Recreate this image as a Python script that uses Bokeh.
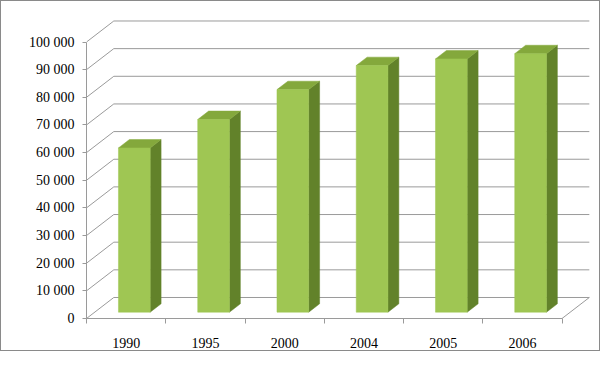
from bokeh.plotting import figure
from bokeh.models import FixedTicker, Range1d
from bokeh.embed import file_html
from bokeh.resources import INLINE

# ---- data ----
years = ["1990", "1995", "2000", "2004", "2005", "2006"]
values = [59400, 69700, 80500, 89200, 91600, 93500]
y_ticks = [0, 10000, 20000, 30000, 40000, 50000, 60000, 70000, 80000, 90000, 100000]
y_tick_labels = ["0", "10 000", "20 000", "30 000", "40 000", "50 000",
                 "60 000", "70 000", "80 000", "90 000", "100 000"]

# ---- 3D projection style ----
DX = 0.3445      # back-wall shift in category units
DY = 7600.0      # back-wall shift in value units
F0, F1 = 0.3, 0.7  # bar depth slot (fraction of chart depth)
BAR_W = 0.4

n = len(years)
FONT = "'Liberation Serif', 'Times New Roman', serif"
GRID = "#9a9a9a"

p = figure(width=600, height=351, x_range=Range1d(0, 6.435), y_range=Range1d(0, 108500),
           output_backend="svg", toolbar_location=None,
           min_border_left=85, min_border_right=5, min_border_top=17, min_border_bottom=34)
p.grid.visible = False
p.outline_line_color = None
p.background_fill_color = "white"
p.border_fill_color = "white"
p.styles = {"border": "1px solid #8a8a8a"}

# back wall gridlines + left side-wall diagonals
gx, gy = [], []
for v in y_ticks:
    gx.append([0 + DX, n + DX]); gy.append([v + DY, v + DY])
    gx.append([0, DX]); gy.append([v, v + DY])
# floor right edge
gx.append([n, n + DX]); gy.append([0, DY])
p.multi_line(gx, gy, line_color=GRID, line_width=1)

# bars
front_l, front_r, front_b, front_t = [], [], [], []
side_x, side_y, top_x, top_y = [], [], [], []
for i, v in enumerate(values):
    x0 = i + 0.5 - BAR_W / 2
    x1 = i + 0.5 + BAR_W / 2
    front_l.append(x0 + F0 * DX); front_r.append(x1 + F0 * DX)
    front_b.append(F0 * DY); front_t.append(v + F0 * DY)
    side_x.append([x1 + F0 * DX, x1 + F1 * DX, x1 + F1 * DX, x1 + F0 * DX])
    side_y.append([F0 * DY, F1 * DY, v + F1 * DY, v + F0 * DY])
    top_x.append([x0 + F0 * DX, x1 + F0 * DX, x1 + F1 * DX, x0 + F1 * DX])
    top_y.append([v + F0 * DY, v + F0 * DY, v + F1 * DY, v + F1 * DY])

p.patches(side_x, side_y, fill_color="#62822a", line_color="#62822a", line_width=0.5)
p.patches(top_x, top_y, fill_color="#84a83c", line_color="#84a83c", line_width=0.5)
p.quad(left=front_l, right=front_r, bottom=front_b, top=front_t,
       fill_color="#9fc653", line_color="#9fc653", line_width=0.5)

# y axis (front plane)
ya = p.yaxis[0]
ya.ticker = FixedTicker(ticks=y_ticks, minor_ticks=[])
ya.major_label_overrides = {t: l for t, l in zip(y_ticks, y_tick_labels)}
ya.bounds = (0, 100000)
ya.axis_line_color = GRID
ya.major_tick_line_color = GRID
ya.major_tick_out = 4
ya.major_tick_in = 0
ya.minor_tick_line_color = None
ya.major_label_standoff = 8
ya.major_label_text_font = FONT
ya.major_label_text_font_size = "14px"
ya.major_label_text_color = "black"

# x axis (front floor edge): labels at centers, ticks at boundaries
centers = [i + 0.5 for i in range(n)]
bounds = [float(i) for i in range(n + 1)]
xa = p.xaxis[0]
xa.ticker = FixedTicker(ticks=centers, minor_ticks=bounds)
xa.major_label_overrides = {c: y for c, y in zip(centers, years)}
xa.bounds = (0, n)
xa.axis_line_color = GRID
xa.major_tick_line_color = None
xa.major_tick_out = 0
xa.major_tick_in = 0
xa.minor_tick_line_color = GRID
xa.minor_tick_out = 5
xa.minor_tick_in = 0
xa.major_label_standoff = 14
xa.major_label_text_font = FONT
xa.major_label_text_font_size = "14px"
xa.major_label_text_color = "black"

open("out.html", "w").write(file_html(p, INLINE))
